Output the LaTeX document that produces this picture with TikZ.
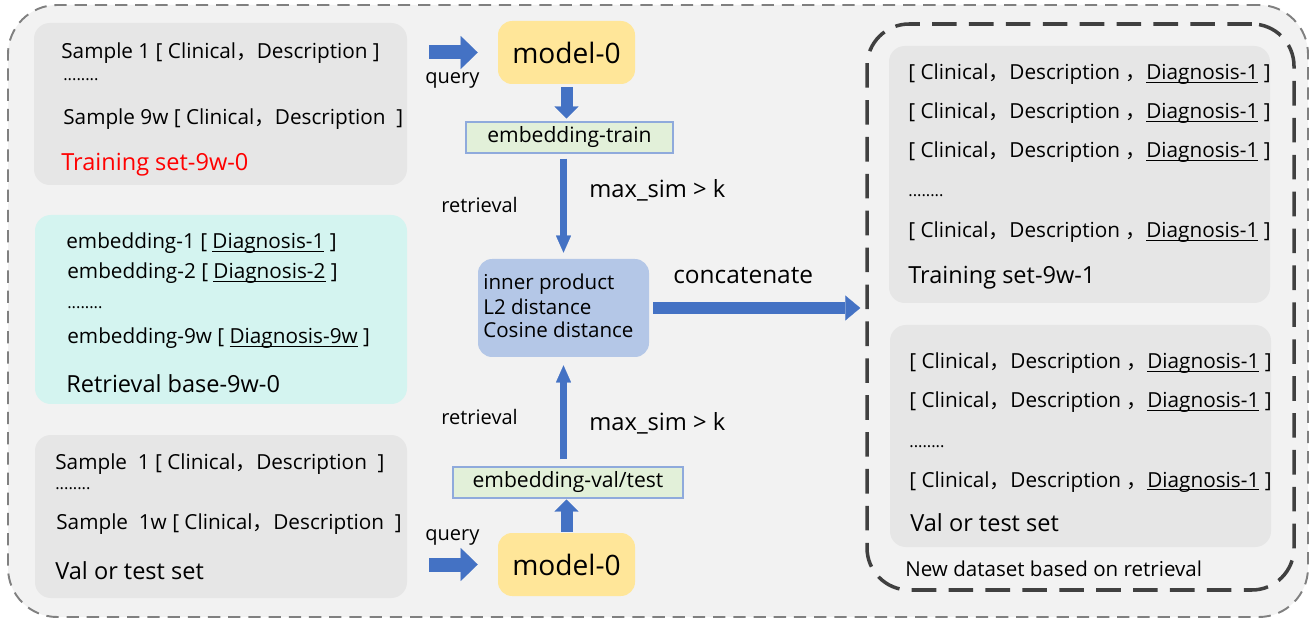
\documentclass[tikz,border=0pt]{standalone}
\usepackage{fontspec}
\setmainfont{Open Sans}
\newfontfamily\cjk{Noto Sans CJK SC}
\usetikzlibrary{arrows.meta,positioning,calc,fit}
\definecolor{panel}{HTML}{F2F2F2}
\definecolor{card}{HTML}{E6E6E6}
\definecolor{aqua}{HTML}{D4F4F0}
\definecolor{butter}{HTML}{FFE699}
\definecolor{flow}{HTML}{4472C4}
\definecolor{metricbg}{HTML}{B4C7E7}
\definecolor{mint}{HTML}{E2F0D9}
\definecolor{mintline}{HTML}{8FAADC}
\definecolor{frame}{HTML}{404040}
\newcommand{\fwc}{{\cjk ，}}
\newcommand{\fsz}[1]{\fontsize{#1}{#1}\selectfont}
% underline that sits just under the baseline
\newcommand{\uln}[1]{{\setbox0\hbox{#1}\rlap{\rule[-0.14em]{\wd0}{0.06em}}\box0}}
\newcommand{\dotrow}{{\fsz{9.4}........}}

\begin{document}
\begin{tikzpicture}[x=0.02cm,y=-0.02cm,
    card/.style={fill=card,rounded corners=9pt,inner sep=0pt},
    model/.style={fill=butter,rounded corners=8pt,inner sep=0pt},
    embbox/.style={fill=mint,draw=mintline,line width=0.6pt,inner sep=0pt},
    row/.style={anchor=base west,inner sep=0pt,font=\fsz{11.8}},
    title/.style={anchor=base west,inner sep=0pt,font=\fsz{13.4}},
    tag/.style={anchor=base west,inner sep=0pt,font=\fsz{11.4}},
    fat/.style={draw=flow,line width=0.28cm,
                -{Triangle[width=0.66cm,length=0.34cm,line width=0.1pt]}},
    stub/.style={draw=flow,line width=0.24cm,
                 -{Triangle[width=0.48cm,length=0.24cm,line width=0.1pt]}},
    thin/.style={draw=flow,line width=0.14cm,
                 -{Triangle[width=0.3cm,length=0.34cm,line width=0.1pt]}}]
  \useasboundingbox (0,0) rectangle (1315,621);

  % panel and dataset frame
  \node[fill=panel,draw=gray,line width=1.1pt,dash pattern=on 7pt off 4.5pt,
        rounded corners=28pt,inner sep=0pt,fit={(8,5) (1308,617)}] (panel) {};
  \node[draw=frame,line width=2pt,dash pattern=on 14pt off 7pt,
        rounded corners=24pt,inner sep=0pt,fit={(867,24) (1294,590)}] (newset) {};

  % left column
  \node[card,fit={(34,23) (407,185)}] (train) {};
  \node[card,fill=aqua,fit={(35,215) (407,404)}] (base) {};
  \node[card,fit={(35,435) (407,598)}] (valset) {};

  \node[row] (tr1) at (61,59) {Sample 1 [ Clinical\fwc Description ]};
  \node[row] (tr2) at (63,81) {\dotrow};
  \node[row] (tr3) at (63,125) {Sample 9w [ Clinical\fwc Description~~]};
  \node[title,text=red] (trname) at (61,171) {Training set-9w-0};

  \node[row] (bs1) at (66,249) {embedding-1 [ \uln{Diagnosis-1} ]};
  \node[row] (bs2) at (67,279) {embedding-2 [ \uln{Diagnosis-2} ]};
  \node[row] (bs3) at (67,309) {\dotrow};
  \node[row] (bs4) at (67,344) {embedding-9w [ \uln{Diagnosis-9w} ]};
  \node[title] (bsname) at (66,393) {Retrieval base-9w-0};

  \node[row] (vl1) at (55,469) {Sample~~1 [ Clinical\fwc Description~~]};
  \node[row] (vl2) at (55,489) {\dotrow};
  \node[row] (vl3) at (56,529) {Sample~~1w [ Clinical\fwc Description~~]};
  \node[title] (vlname) at (55,579) {Val or test set};

  % middle column
  \node[model,fit={(498,21) (635,84)}] (model1) {};
  \node[font=\fsz{16}] at (model1) {model-0};
  \node[embbox,fit={(466,122) (673,153)}] (embtrain) {};
  \node[font=\fsz{12}] at (embtrain) {embedding-train};
  \node[fill=metricbg,rounded corners=8pt,inner sep=0pt,fit={(478,259) (649,357)}] (metric) {};
  \node[row,font=\fsz{11.7}] (m1) at (483,290) {inner product};
  \node[row,font=\fsz{11.7}] (m2) at (483,315) {L2 distance};
  \node[row,font=\fsz{11.7}] (m3) at (483,338) {Cosine distance};
  \node[embbox,fit={(453,467) (683,498)}] (embval) {};
  \node[font=\fsz{12}] at (embval) {embedding-val/test};
  \node[model,fit={(498,533) (635,596)}] (model2) {};
  \node[font=\fsz{16}] at (model2) {model-0};

  \node[tag] (q1) at (425,84) {query};
  \node[tag] (q2) at (425,540) {query};
  \node[tag] (rt1) at (441,213) {retrieval};
  \node[tag] (rt2) at (441,424) {retrieval};
  \node[row,font=\fsz{13.5}] (ms1) at (589,198) {max\_sim > k};
  \node[row,font=\fsz{13.5}] (ms2) at (589,430) {max\_sim > k};
  \node[row,font=\fsz{13.9}] (cat) at (673,284) {concatenate};

  % arrows
  \draw[fat,shorten <=0.44cm,shorten >=0.4cm] (train.east |- model1) -- (model1.west);
  \draw[fat,shorten <=0.44cm,shorten >=0.4cm] (valset.east |- model2) -- (model2.west);
  \draw[stub,shorten <=0.06cm,shorten >=0.06cm] (model1.south) -- (model1.south |- embtrain.north);
  \draw[stub,shorten <=0.02cm,shorten >=0.02cm] (model2.north) -- (model2.north |- embval.south);
  \draw[thin,shorten <=0.1cm,shorten >=0.12cm] (metric.north |- embtrain.south) -- (metric.north);
  \draw[thin,shorten <=0.14cm,shorten >=0.16cm] (metric.south |- embval.north) -- (metric.south);
  \draw[draw=flow,line width=0.23cm,shorten <=0.08cm,shorten >=0.1cm,
        -{Triangle[width=0.5cm,length=0.3cm,line width=0.1pt]}]
        (metric.east) -- (metric.east -| newset.west);

  % right column
  \node[card,fit={(889,46) (1270,303)}] (train1) {};
  \node[card,fit={(890,325) (1271,547)}] (val1) {};
  \foreach \y [count=\i] in {80,119,158,238}
    \node[row] (ta\i) at (908,\y) {[ Clinical\fwc Description \fwc\uln{Diagnosis-1} ]};
  \node[row] (tadots) at (908,197) {\dotrow};
  \node[title] (taname) at (908,284) {Training set-9w-1};
  \foreach \y [count=\i] in {369,408,487}
    \node[row] (vb\i) at (909,\y) {[ Clinical\fwc Description \fwc\uln{Diagnosis-1} ]};
  \node[row] (vbdots) at (909,447) {\dotrow};
  \node[title] (vbname) at (910,531) {Val or test set};
  \node[row,font=\fsz{11.7}] (setname) at (905,576) {New dataset based on retrieval};
\end{tikzpicture}
\end{document}
